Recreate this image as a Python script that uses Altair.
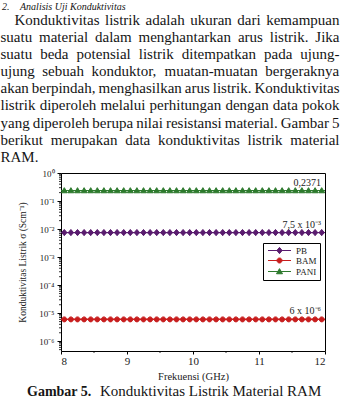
import altair as alt
import pandas as pd

# ---------------- data ----------------
series_names = ["PB", "BAM", "PANI"]
series_colors = ["#5a1c6e", "#c81e1e", "#2e7a2e"]

freq_ghz = [8.05, 8.15, 8.25, 8.35, 8.45, 8.55, 8.65, 8.75, 8.85, 8.95,
            9.05, 9.15, 9.25, 9.35, 9.45, 9.55, 9.65, 9.75, 9.85, 9.95,
            10.05, 10.15, 10.25, 10.35, 10.45, 10.55, 10.65, 10.75, 10.85, 10.95,
            11.05, 11.15, 11.25, 11.35, 11.45, 11.55, 11.65, 11.75, 11.85, 11.95]
pb_sigma = [0.0075, 0.0075, 0.0075, 0.0075, 0.0075, 0.0075, 0.0075, 0.0075, 0.0075, 0.0075,
            0.0075, 0.0075, 0.0075, 0.0075, 0.0075, 0.0075, 0.0075, 0.0075, 0.0075, 0.0075,
            0.0075, 0.0075, 0.0075, 0.0075, 0.0075, 0.0075, 0.0075, 0.0075, 0.0075, 0.0075,
            0.0075, 0.0075, 0.0075, 0.0075, 0.0075, 0.0075, 0.0075, 0.0075, 0.0075, 0.0075]
bam_sigma = [6e-6, 6e-6, 6e-6, 6e-6, 6e-6, 6e-6, 6e-6, 6e-6, 6e-6, 6e-6,
             6e-6, 6e-6, 6e-6, 6e-6, 6e-6, 6e-6, 6e-6, 6e-6, 6e-6, 6e-6,
             6e-6, 6e-6, 6e-6, 6e-6, 6e-6, 6e-6, 6e-6, 6e-6, 6e-6, 6e-6,
             6e-6, 6e-6, 6e-6, 6e-6, 6e-6, 6e-6, 6e-6, 6e-6, 6e-6, 6e-6]
pani_sigma = [0.2371, 0.2371, 0.2371, 0.2371, 0.2371, 0.2371, 0.2371, 0.2371, 0.2371, 0.2371,
              0.2371, 0.2371, 0.2371, 0.2371, 0.2371, 0.2371, 0.2371, 0.2371, 0.2371, 0.2371,
              0.2371, 0.2371, 0.2371, 0.2371, 0.2371, 0.2371, 0.2371, 0.2371, 0.2371, 0.2371,
              0.2371, 0.2371, 0.2371, 0.2371, 0.2371, 0.2371, 0.2371, 0.2371, 0.2371, 0.2371]

value_label_series = ["PANI", "PB", "BAM"]
value_label_sigma = [0.2371, 0.0075, 6e-6]
value_label_text = ["0,2371", "7,5 x 10⁻³", "6 x 10⁻⁶"]

x_tick_values = [8, 9, 10, 11, 12]
x_minor_ticks = [8.5, 9.5, 10.5, 11.5]
y_tick_values = [1e-6, 1e-5, 1e-4, 1e-3, 1e-2, 1e-1, 1]
y_tick_labels = ["10⁻⁶", "10⁻⁵", "10⁻⁴", "10⁻³", "10⁻²", "10⁻¹", "10⁰"]

x_title = "Frekuensi (GHz)"
y_title = "Konduktivitas Listrik σ (Scm⁻¹)"

heading_words = ["2.", "Analisis Uji Konduktivitas"]
paragraph_lines = [
    "Konduktivitas listrik adalah ukuran dari kemampuan",
    "suatu material dalam menghantarkan arus listrik. Jika",
    "suatu beda potensial listrik ditempatkan pada ujung-",
    "ujung sebuah konduktor, muatan-muatan bergeraknya",
    "akan berpindah, menghasilkan arus listrik. Konduktivitas",
    "listrik diperoleh melalui perhitungan dengan data pokok",
    "yang diperoleh berupa nilai resistansi material. Gambar 5",
    "berikut merupakan data konduktivitas listrik material",
    "RAM.",
]
caption_bold = "Gambar 5."
caption_text = "Konduktivitas Listrik Material RAM"

# ---------------- layout / style ----------------
SERIF = "Liberation Serif"
W, H = 264, 178
PAD_L, PAD_T = 61, 173
Y_MIN = 4.47e-7

# Times-compatible advance widths (per 1000 em) for text justification
ADV = {c: 500 for c in "bdghknopquvxy0123456789"}
ADV.update({"a": 444, "c": 444, "e": 444, "z": 444, "f": 333, "r": 333, "-": 333,
            "i": 278, "j": 278, "l": 278, "t": 278, "s": 389, "m": 778, "w": 722,
            " ": 250, ".": 250, ",": 250, "K": 722, "J": 389, "G": 722, "R": 667,
            "A": 722, "M": 889})


def adv(word, size):
    return sum(ADV.get(ch, 500) for ch in word) / 1000.0 * size


BODY = 15
rows = []
# section heading (italic)
rows.append(dict(t=heading_words[0], px=2 - PAD_L, py=9.5 - PAD_T, kind="ital"))
rows.append(dict(t=heading_words[1], px=20 - PAD_L, py=9.5 - PAD_T, kind="ital"))
left_edge, right_edge, indent = 0.5, 339.5, 14.0
for i, line in enumerate(paragraph_lines):
    words = line.split(" ")
    base = 25.2 + i * 17.05
    x0 = left_edge + (indent if i == 0 else 0.0)
    widths = [adv(w, BODY) for w in words]
    if i == len(paragraph_lines) - 1 or len(words) == 1:
        gap = 0.25 * BODY
    else:
        gap = (right_edge - x0 - sum(widths)) / (len(words) - 1)
    x = x0
    for w, wd in zip(words, widths):
        rows.append(dict(t=w, px=x - PAD_L, py=base - PAD_T, kind="body"))
        x += wd + gap
rows.append(dict(t=caption_bold, px=27 - PAD_L, py=396 - PAD_T, kind="capb"))
rows.append(dict(t=caption_text, px=100 - PAD_L, py=396 - PAD_T, kind="body"))
text_df = pd.DataFrame(rows)

# ---------------- chart ----------------
records = []
for name, vals in zip(series_names, [pb_sigma, bam_sigma, pani_sigma]):
    for f, v in zip(freq_ghz, vals):
        records.append(dict(series=name, freq=f, sigma=v))
df = pd.DataFrame(records)

LINE = "M-4.6,0H4.6 "
shapes = [LINE + "M0,-1.25L1.05,0L0,1.25L-1.05,0Z",
          LINE + "M-1,0A1,1,0,1,1,1,0A1,1,0,1,1,-1,0Z",
          LINE + "M0,-1.15L1.2,0.9L-1.2,0.9Z"]

xscale = alt.Scale(domain=[8, 12], nice=False, zero=False)
yscale = alt.Scale(type="log", domain=[Y_MIN, 1], nice=False)

legend = alt.Legend(title=None, orient="none", legendX=202, legendY=70,
                    direction="vertical", strokeColor="black", fillColor="white",
                    padding=3, labelFont=SERIF, labelFontSize=9, labelColor="#222",
                    symbolSize=25, symbolStrokeWidth=1, rowPadding=0,
                    symbolOffset=9, labelOffset=12, cornerRadius=0)

label_expr = "[" + ",".join("'%s'" % s for s in y_tick_labels) + "][round(log(datum.value)/LN10)+6]"

points = alt.Chart(df).mark_point(filled=True, size=25, strokeWidth=1, opacity=1, clip=True).encode(
    x=alt.X("freq:Q", scale=xscale,
            axis=alt.Axis(values=x_tick_values, format="d", title=x_title, grid=False,
                          domain=False, tickSize=3, tickColor="black", labelPadding=1,
                          labelFont=SERIF, labelFontSize=11, labelColor="#222",
                          titleFont=SERIF, titleFontSize=10.5, titleFontWeight="normal",
                          titleColor="#222", titlePadding=5)),
    y=alt.Y("sigma:Q", scale=yscale,
            axis=alt.Axis(values=y_tick_values, labelExpr=label_expr, title=y_title, grid=False,
                          domain=False, tickSize=4, tickColor="black", labelPadding=3,
                          labelFont=SERIF, labelFontSize=9, labelColor="#222",
                          titleFont=SERIF, titleFontSize=9.5, titleFontWeight="normal",
                          titleColor="#222", titlePadding=11)),
    color=alt.Color("series:N", scale=alt.Scale(domain=series_names, range=series_colors), legend=legend),
    stroke=alt.Stroke("series:N", scale=alt.Scale(domain=series_names, range=series_colors), legend=legend),
    shape=alt.Shape("series:N", scale=alt.Scale(domain=series_names, range=shapes), legend=legend),
)

ann_df = pd.DataFrame(dict(series=value_label_series, sigma=value_label_sigma,
                           label=value_label_text, freq=[12] * 3))
annotations = alt.Chart(ann_df).mark_text(align="right", baseline="alphabetic", dx=-4, dy=-5,
                                          font=SERIF, fontSize=10, color="#222").encode(
    x=alt.X("freq:Q", scale=xscale), y=alt.Y("sigma:Q", scale=yscale), text="label:N")

minor_y = [m * 10.0 ** e for e in range(-7, 0) for m in range(2, 10) if m * 10.0 ** e >= Y_MIN]
minor_y_ticks = alt.Chart(pd.DataFrame(dict(v=minor_y))).mark_rule(color="black", strokeWidth=0.8).encode(
    y=alt.Y("v:Q", scale=yscale), x=alt.value(0), x2=alt.value(-2))
minor_x_ticks = alt.Chart(pd.DataFrame(dict(v=x_minor_ticks))).mark_rule(color="black", strokeWidth=0.8).encode(
    x=alt.X("v:Q", scale=xscale), y=alt.value(H), y2=alt.value(H + 2))

plot = alt.layer(minor_y_ticks, minor_x_ticks, points, annotations)


def text_layer(kind, **kw):
    return alt.Chart(text_df).transform_filter(alt.datum.kind == kind).mark_text(
        align="left", baseline="alphabetic", font=SERIF, color="#151515", **kw).encode(
        x=alt.X("px:Q", scale=None, axis=None),
        y=alt.Y("py:Q", scale=None, axis=None),
        text="t:N")


texts = alt.layer(
    text_layer("body", fontSize=BODY),
    text_layer("ital", fontSize=10, fontStyle="italic"),
    text_layer("capb", fontSize=14, fontWeight="bold"),
)

chart = alt.layer(plot, texts).resolve_scale(x="independent", y="independent").properties(
    width=W, height=H,
    autosize=alt.AutoSizeParams(type="none"),
    padding={"left": PAD_L, "top": PAD_T, "right": 340 - PAD_L - W, "bottom": 403 - PAD_T - H},
    background="white",
).configure_view(stroke="black", strokeWidth=1)

chart.save("out.html", embed_options={"renderer": "svg", "actions": False})
